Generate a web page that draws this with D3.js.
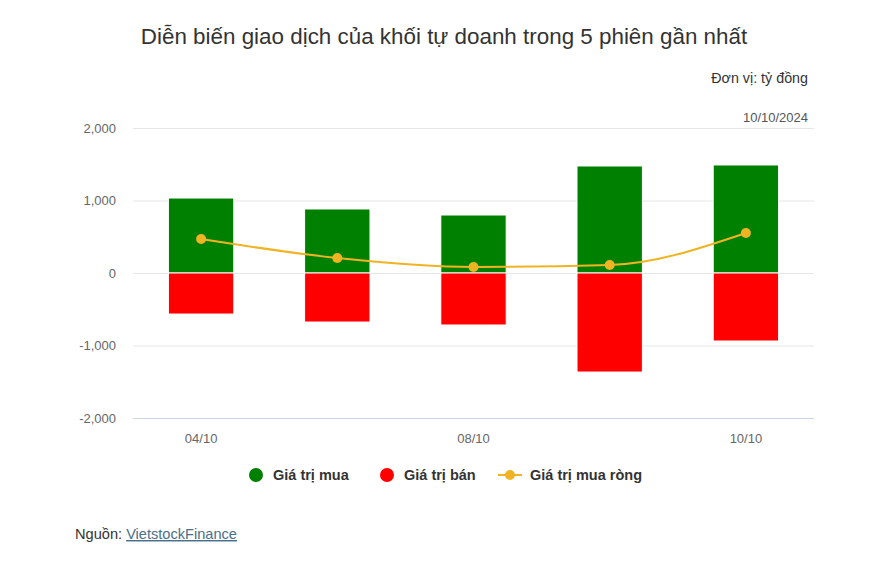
<!DOCTYPE html>
<html><head><meta charset="utf-8">
<script src="https://cdn.jsdelivr.net/npm/d3@7"></script>
<style>body{margin:0;background:#fff;font-family:"Liberation Sans",Arial,sans-serif;}</style>
</head><body><svg id="c" width="887" height="575"></svg>
<script>
const categories = ["04/10","07/10","08/10","09/10","10/10"];
const buyValues = [1034, 883, 800, 1476, 1490];
const sellValues = [-566, -676, -717, -1366, -938];
const netValues = [468, 207, 83, 110, 552];
const yTicks = [-2000, -1000, 0, 1000, 2000];
const xLabelShown = ["04/10","08/10","10/10"];
const seriesNames = ["Giá trị mua","Giá trị bán","Giá trị mua ròng"];
const colors = {buy:"#008000", sell:"#ff0000", net:"#f0b323"};

const svg = d3.select("#c");
svg.append("rect").attr("width",887).attr("height",575).attr("fill","#fff");
const L=133, R=814, T=128, B=418;
const x = d3.scaleBand().domain(categories).range([L,R]).paddingInner(0.52).paddingOuter(0.26);
const y = d3.scaleLinear().domain([-2000,2000]).range([B,T]);

svg.append("text").attr("x",444).attr("y",44).attr("text-anchor","middle")
  .attr("font-size",22.4).attr("fill","#333").text("Diễn biến giao dịch của khối tự doanh trong 5 phiên gần nhất");
svg.append("text").attr("x",808).attr("y",83).attr("text-anchor","end")
  .attr("font-size",14.3).attr("fill","#333").text("Đơn vị: tỷ đồng");
svg.append("text").attr("x",808).attr("y",122).attr("text-anchor","end")
  .attr("font-size",13).attr("fill","#555").text("10/10/2024");

// grid
const fmt = d3.format(",");
const yAxis = d3.axisLeft(y).tickValues(yTicks).tickSize(-(R-L)).tickFormat(d=>fmt(d).replace("\u2212","-"));
const gy = svg.append("g").attr("transform",`translate(${L},0)`).call(yAxis);
gy.select(".domain").remove();
gy.selectAll(".tick line").attr("stroke","#e6e6e6");
gy.selectAll(".tick text").attr("x",-17).attr("font-size",13).attr("fill","#666").attr("font-family","Liberation Sans, Arial, sans-serif");
gy.selectAll(".tick").filter(d=>d===-2000).select("line").attr("stroke","#ccd6eb");

const xAxis = d3.axisBottom(x).tickSize(0).tickFormat(d=>xLabelShown.includes(d)?d:"");
const gx = svg.append("g").attr("transform",`translate(0,${B})`).call(xAxis);
gx.select(".domain").remove();
gx.selectAll(".tick text").attr("dy",0).attr("y",25).attr("font-size",13).attr("fill","#666").attr("font-family","Liberation Sans, Arial, sans-serif");

// bars
svg.append("g").selectAll("rect").data(categories).join("rect")
  .attr("x",d=>x(d)).attr("width",x.bandwidth())
  .attr("y",(d,i)=>y(buyValues[i])).attr("height",(d,i)=>y(0)-y(buyValues[i]))
  .attr("fill",colors.buy).attr("stroke","#fff").attr("stroke-width",1);
svg.append("g").selectAll("rect").data(categories).join("rect")
  .attr("x",d=>x(d)).attr("width",x.bandwidth())
  .attr("y",y(0)).attr("height",(d,i)=>y(sellValues[i])-y(0))
  .attr("fill",colors.sell).attr("stroke","#fff").attr("stroke-width",1);

// line
const cx = d=>x(d)+x.bandwidth()/2;
const line = d3.line().x((d,i)=>cx(categories[i])).y(d=>y(d)).curve(d3.curveMonotoneX);
svg.append("path").datum(netValues).attr("d",line).attr("fill","none")
  .attr("stroke",colors.net).attr("stroke-width",2);
svg.append("g").selectAll("circle").data(netValues).join("circle")
  .attr("cx",(d,i)=>cx(categories[i])).attr("cy",d=>y(d)).attr("r",5).attr("fill",colors.net);

// legend
const lg = svg.append("g").attr("font-size",14.5).attr("font-weight","bold").attr("fill","#333");
lg.append("circle").attr("cx",256).attr("cy",475).attr("r",7).attr("fill",colors.buy);
lg.append("text").attr("x",273).attr("y",480).text(seriesNames[0]);
lg.append("circle").attr("cx",387).attr("cy",475).attr("r",7).attr("fill",colors.sell);
lg.append("text").attr("x",404).attr("y",480).text(seriesNames[1]);
lg.append("line").attr("x1",498).attr("x2",522).attr("y1",475).attr("y2",475).attr("stroke",colors.net).attr("stroke-width",2);
lg.append("circle").attr("cx",510).attr("cy",475).attr("r",5).attr("fill",colors.net);
lg.append("text").attr("x",530).attr("y",480).text(seriesNames[2]);

// source
const src = svg.append("text").attr("x",75).attr("y",539).attr("font-size",14.6).attr("fill","#333");
src.append("tspan").text("Nguồn: ");
src.append("tspan").attr("fill","#4a6f8a").attr("text-decoration","underline").text("VietstockFinance");
</script></body></html>
